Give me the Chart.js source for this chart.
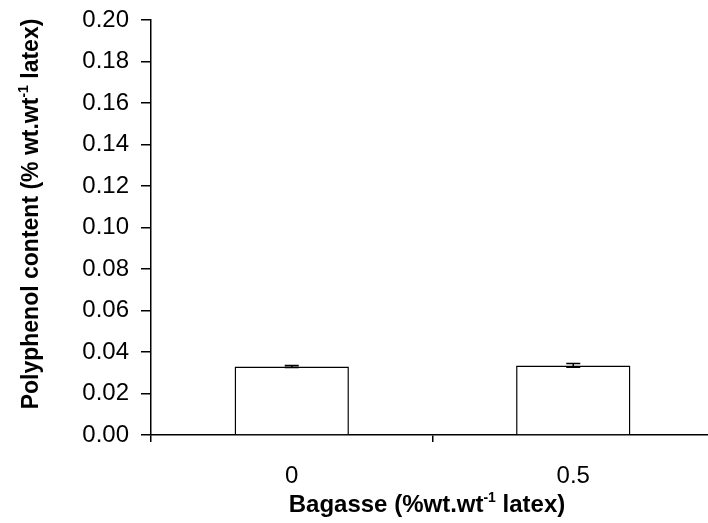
<!DOCTYPE html>
<html>
<head>
<meta charset="utf-8">
<script src="https://cdn.jsdelivr.net/npm/chart.js@4/dist/chart.umd.min.js"></script>
<style>
  html, body { margin: 0; padding: 0; background: #fff; overflow: hidden; width: 708px; height: 523px; }
  #wrap { width: 714px; height: 523px; position: relative; }
</style>
</head>
<body>
<div id="wrap"><canvas id="c"></canvas></div>
<script>
// Bagasse loading categories and measured polyphenol content
const categories = ['0', '0.5'];
const polyphenol = [0.033, 0.0335];
const errors = [0.0005, 0.0009];
const yTicks = [0, 0.02, 0.04, 0.06, 0.08, 0.10, 0.12, 0.14, 0.16, 0.18, 0.20];

const FONT = '"Liberation Sans", Arial, sans-serif';

// Draws an axis title, with "-1" set as a superscript
function drawTitle(ctx, parts, x, y, rotate, size) {
  ctx.save();
  ctx.translate(x, y);
  if (rotate) ctx.rotate(-Math.PI / 2);
  ctx.fillStyle = '#000';
  ctx.textBaseline = 'alphabetic';
  const big = 'bold ' + size + 'px ' + FONT;
  const small = 'bold ' + Math.round(size * 0.6) + 'px ' + FONT;
  let total = 0;
  parts.forEach(p => { ctx.font = p.sup ? small : big; total += ctx.measureText(p.t).width; });
  let cx = -total / 2;
  parts.forEach(p => {
    ctx.font = p.sup ? small : big;
    ctx.fillText(p.t, cx, p.sup ? -size * 0.42 : 0);
    cx += ctx.measureText(p.t).width;
  });
  ctx.restore();
}

const titlesPlugin = {
  id: 'titles',
  afterDraw(chart) {
    const ctx = chart.ctx;
    drawTitle(ctx, [{t: 'Polyphenol content (% wt.wt'}, {t: '-1', sup: true}, {t: ' latex)'}],
      38, 214, true, 23);
    drawTitle(ctx, [{t: 'Bagasse (%wt.wt'}, {t: '-1', sup: true}, {t: ' latex)'}],
      427, 512, false, 24);
  }
};

const errorBarPlugin = {
  id: 'errorBars',
  afterDatasetsDraw(chart) {
    const ctx = chart.ctx;
    const y = chart.scales.y;
    const meta = chart.getDatasetMeta(0);
    ctx.save();
    ctx.strokeStyle = '#000';
    ctx.lineWidth = 1.5;
    meta.data.forEach((bar, i) => {
      const v = polyphenol[i], e = errors[i];
      const top = y.getPixelForValue(v + e), bot = y.getPixelForValue(v - e);
      ctx.beginPath();
      ctx.moveTo(bar.x, top); ctx.lineTo(bar.x, bot);
      ctx.moveTo(bar.x - 7, top); ctx.lineTo(bar.x + 7, top);
      ctx.moveTo(bar.x - 7, bot); ctx.lineTo(bar.x + 7, bot);
      ctx.stroke();
    });
    ctx.restore();
  }
};

new Chart(document.getElementById('c'), {
  type: 'bar',
  data: {
    labels: categories,
    datasets: [{
      data: polyphenol,
      backgroundColor: '#fff',
      borderColor: '#000',
      borderWidth: 1.5,
      borderSkipped: 'bottom',
      barPercentage: 0.406,
      categoryPercentage: 1
    }]
  },
  options: {
    responsive: true,
    maintainAspectRatio: false,
    animation: false,
    layout: { padding: { top: 20, right: 0, left: 0, bottom: 0 } },
    plugins: { legend: { display: false }, tooltip: { enabled: false } },
    scales: {
      x: {
        offset: true,
        grid: { offset: true, drawOnChartArea: false, drawTicks: true, tickLength: 7, color: '#000', lineWidth: 1.5 },
        border: { display: true, color: '#000', width: 1.5 },
        ticks: { color: '#000', font: { family: FONT, size: 24 }, padding: 20 },
        afterFit(s) { s.height = 88; s.paddingLeft = 0; s.paddingRight = 0; }
      },
      y: {
        min: 0, max: 0.2,
        afterBuildTicks(s) { s.ticks = yTicks.map(v => ({ value: v })); },
        grid: { drawOnChartArea: false, drawTicks: true, tickLength: 10, color: '#000', lineWidth: 1.5 },
        border: { display: true, color: '#000', width: 1.5 },
        ticks: { color: '#000', font: { family: FONT, size: 24 }, padding: 12,
          callback: v => v.toFixed(2) },
        afterFit(s) { s.width = 151; s.paddingTop = 0; s.paddingBottom = 0; }
      }
    }
  },
  plugins: [errorBarPlugin, titlesPlugin]
});
</script>
</body>
</html>
